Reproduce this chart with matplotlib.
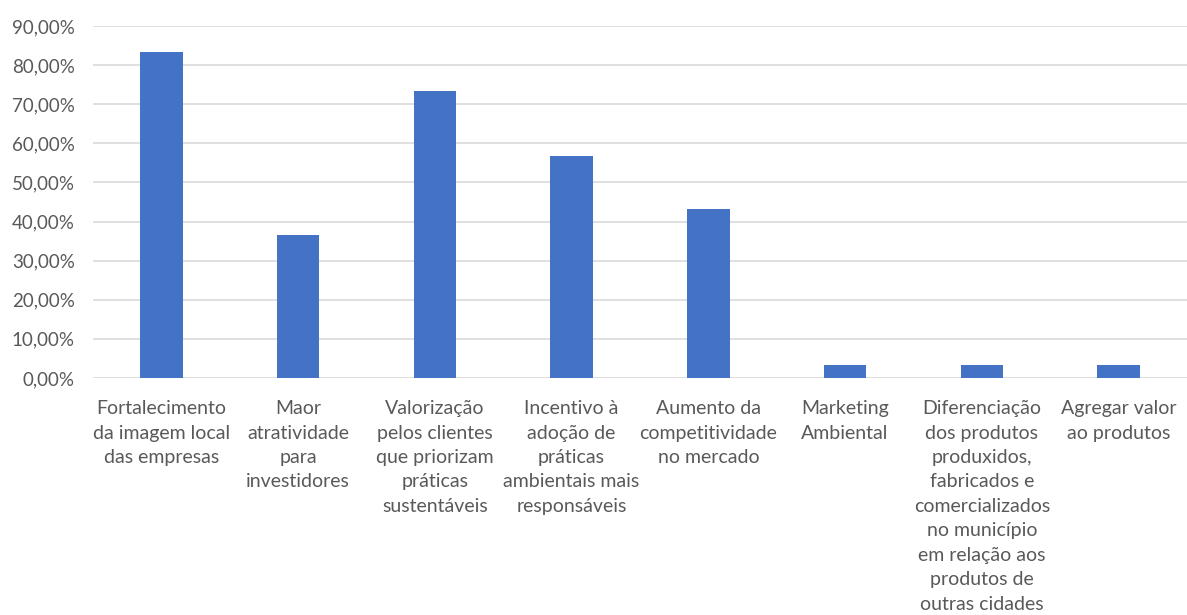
import matplotlib.pyplot as plt
from matplotlib.ticker import FuncFormatter

categorias = [
    "Fortalecimento\nda imagem local\ndas empresas",
    "Maor\natratividade\npara\ninvestidores",
    "Valorização\npelos clientes\nque priorizam\npráticas\nsustentáveis",
    "Incentivo à\nadoção de\npráticas\nambientais mais\nresponsáveis",
    "Aumento da\ncompetitividade\nno mercado",
    "Marketing\nAmbiental",
    "Diferenciação\ndos produtos\nproduxidos,\nfabricados e\ncomercializados\nno município\nem relação aos\nprodutos de\noutras cidades",
    "Agregar valor\nao produtos",
]
valores = [0.8333, 0.3667, 0.7333, 0.5667, 0.4333, 0.0333, 0.0333, 0.0333]
yticks = [0, 0.1, 0.2, 0.3, 0.4, 0.5, 0.6, 0.7, 0.8, 0.9]

plt.rcParams['font.family'] = ['Lato', 'DejaVu Sans']
cinza = '#595959'

fig = plt.figure(figsize=(11.87, 6.15), dpi=100)
ax = fig.add_axes([0.0783, 0.3854, 0.9217, 0.5723])

x = range(len(categorias))
ax.bar(x, valores, width=0.31, color='#4472C4', zorder=3)

ax.set_xlim(-0.5, len(categorias) - 0.5)
ax.set_ylim(0, 0.9)
ax.set_yticks(yticks)
ax.yaxis.set_major_formatter(FuncFormatter(lambda v, p: f"{v*100:.2f}%".replace('.', ',')))
ax.grid(axis='y', color='#d9d9d9', linewidth=1.2, zorder=0)
for s in ax.spines.values():
    s.set_visible(False)
ax.tick_params(axis='both', length=0, colors=cinza)
ax.tick_params(axis='y', pad=13, labelsize=13.5)
ax.tick_params(axis='x', pad=16, labelsize=14)
ax.set_xticks(list(x))
ax.set_xticklabels(categorias, linespacing=1.53, va='top')

fig.savefig('out.png', dpi=100)
